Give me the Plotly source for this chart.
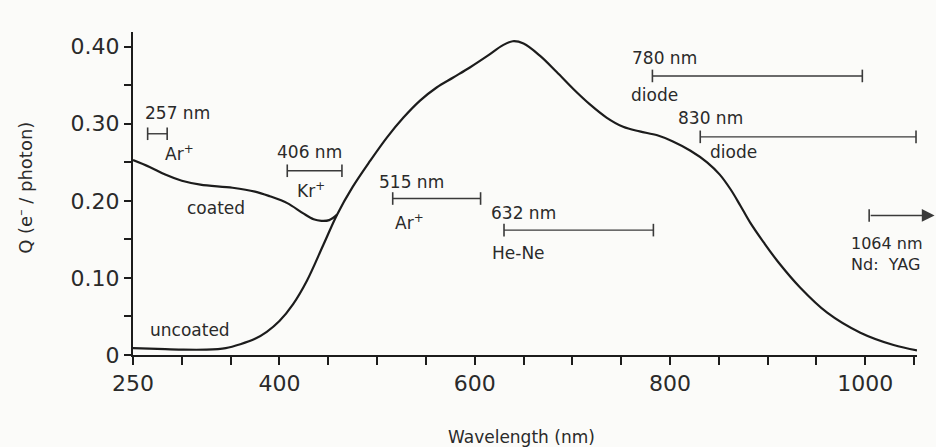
import plotly.graph_objects as go

# ---------------- data ----------------
uncoated_wl = [250, 275, 300, 325, 345, 360, 375, 387, 400, 414, 428, 445, 459, 475, 493,
               510, 527, 544, 561, 578, 595, 613, 629, 639, 650, 667, 684, 701, 718, 735,
               752, 769, 787, 803, 821, 838, 851, 862, 872, 882, 896, 910, 933, 961, 995,
               1029, 1053]
uncoated_q = [0.009, 0.008, 0.007, 0.007, 0.009, 0.014, 0.021, 0.030, 0.044, 0.066, 0.096,
              0.143, 0.182, 0.218, 0.252, 0.282, 0.308, 0.330, 0.347, 0.360, 0.373, 0.388,
              0.402, 0.407, 0.404, 0.388, 0.367, 0.345, 0.325, 0.308, 0.296, 0.290, 0.285,
              0.277, 0.265, 0.250, 0.234, 0.215, 0.194, 0.172, 0.146, 0.122, 0.088, 0.055,
              0.029, 0.013, 0.006]

coated_wl = [250, 267, 283, 300, 319, 352, 375, 390, 408, 424, 435, 443, 451, 459]
coated_q = [0.253, 0.244, 0.234, 0.226, 0.221, 0.217, 0.212, 0.206, 0.197, 0.184, 0.176,
            0.174, 0.175, 0.182]

laser_lines = ["257 nm", "406 nm", "515 nm", "632 nm", "780 nm", "830 nm", "1064 nm"]
laser_media = ["Ar<sup>+</sup>", "Kr<sup>+</sup>", "Ar<sup>+</sup>", "He-Ne", "diode", "diode",
               "Nd:  YAG"]
bar_start = [265, 408, 516, 630, 782, 831, 1004]
bar_end = [285, 464, 606, 783, 997, 1052, 1071]
bar_level = [0.287, 0.239, 0.203, 0.162, 0.362, 0.283, 0.181]
bar_is_arrow = [False, False, False, False, False, False, True]

x_major_vals = [250, 400, 600, 800, 1000]
x_major_text = ["250", "400", "600", "800", "1000"]
x_minor_vals = [300, 350, 450, 500, 550, 650, 700, 750, 850, 900, 950, 1050]
y_major_vals = [0, 0.10, 0.20, 0.30, 0.40]
y_major_text = ["0", "0.10", "0.20", "0.30", "0.40"]
y_minor_vals = [0.05, 0.15, 0.25, 0.35]

curve_labels = ["coated", "uncoated"]
curve_label_wl = [303, 265]
curve_label_q = [0.191, 0.032]

# ---------------- styling / layout ----------------
FONT = "DejaVu Sans"
INK = "#1c1c1c"
TXT = "#2a2a2a"
BAR = "#3a3a3a"

# pixel offsets of the (top label, bottom label) relative to the bar start
top_shift = [(-5, 21), (-12, 19), (-16, 17), (-15, 17), (-22, 18), (-24, 19), None]
bot_shift = [(15, -19), (8, -19), (0, -23), (-14, -23), (-23, -19), (8, -15), None]
stack_shift = (-20, -39)   # two-line caption placed below the arrow

fig = go.Figure()

fig.add_trace(go.Scatter(x=uncoated_wl, y=uncoated_q, mode="lines",
                         line=dict(color=INK, width=2.2, shape="spline", smoothing=1.0),
                         hoverinfo="skip", showlegend=False))
fig.add_trace(go.Scatter(x=coated_wl, y=coated_q, mode="lines",
                         line=dict(color=INK, width=2.2, shape="spline", smoothing=1.0),
                         hoverinfo="skip", showlegend=False))

annotations = []
for i in range(len(laser_lines)):
    if bar_is_arrow[i]:
        fig.add_trace(go.Scatter(x=[bar_start[i]], y=[bar_level[i]], mode="markers",
                                 marker=dict(symbol="line-ns", size=9,
                                             line=dict(width=1.6, color=BAR)),
                                 cliponaxis=False, hoverinfo="skip", showlegend=False))
        annotations.append(dict(x=bar_end[i], y=bar_level[i], xref="x", yref="y",
                                ax=bar_start[i], ay=bar_level[i], axref="x", ayref="y",
                                text="", showarrow=True, arrowhead=2, arrowsize=1.7,
                                arrowwidth=1.5, arrowcolor=BAR, standoff=0, startstandoff=0))
        annotations.append(dict(x=bar_start[i], y=bar_level[i], xref="x", yref="y",
                                text=laser_lines[i] + "<br>" + laser_media[i],
                                showarrow=False, xanchor="left", yanchor="middle",
                                align="left", xshift=stack_shift[0], yshift=stack_shift[1],
                                font=dict(family=FONT, size=16, color=TXT)))
        continue
    fig.add_trace(go.Scatter(x=[bar_start[i], bar_end[i]], y=[bar_level[i], bar_level[i]],
                             mode="lines+markers",
                             line=dict(color=BAR, width=1.4),
                             marker=dict(symbol="line-ns", size=9,
                                         line=dict(width=1.6, color=BAR)),
                             cliponaxis=False, hoverinfo="skip", showlegend=False))
    for txt, (dx, dy) in ((laser_lines[i], top_shift[i]), (laser_media[i], bot_shift[i])):
        annotations.append(dict(x=bar_start[i], y=bar_level[i], xref="x", yref="y",
                                text=txt, showarrow=False, xanchor="left", yanchor="middle",
                                xshift=dx, yshift=dy,
                                font=dict(family=FONT, size=17, color=TXT)))

for lab, xw, yq in zip(curve_labels, curve_label_wl, curve_label_q):
    annotations.append(dict(x=xw, y=yq, xref="x", yref="y", text=lab, showarrow=False,
                            xanchor="left", yanchor="middle",
                            font=dict(family=FONT, size=17, color=TXT)))

annotations.append(dict(x=0.495, y=-0.254, xref="paper", yref="paper",
                        text="Wavelength (nm)", showarrow=False, xanchor="center",
                        yanchor="middle", font=dict(family=FONT, size=17, color=TXT)))
annotations.append(dict(x=-0.138, y=0.517, xref="paper", yref="paper",
                        text="Q (e<sup>–</sup> / photon)", showarrow=False, textangle=-90,
                        xanchor="center", yanchor="middle",
                        font=dict(family=FONT, size=18, color=TXT)))

fig.update_layout(
    width=936, height=447,
    margin=dict(l=133, r=19, t=32, b=92),
    paper_bgcolor="#fbfbf9", plot_bgcolor="#fbfbf9",
    annotations=annotations,
    showlegend=False,
)
fig.update_xaxes(range=[250, 1053], tickmode="array", tickvals=x_major_vals,
                 ticktext=x_major_text, ticks="outside", ticklen=8, tickwidth=1.8,
                 tickcolor=INK, showline=True, linecolor=INK, linewidth=2,
                 showgrid=False, zeroline=False,
                 minor=dict(tickmode="array", tickvals=x_minor_vals, ticks="outside",
                            ticklen=8, tickwidth=1.8, tickcolor=INK, showgrid=False),
                 tickfont=dict(family=FONT, size=22, color=TXT))
fig.update_yaxes(range=[0, 0.419], tickmode="array", tickvals=y_major_vals,
                 ticktext=y_major_text, ticks="outside", ticklen=7, tickwidth=1.8,
                 tickcolor=INK, showline=True, linecolor=INK, linewidth=2,
                 showgrid=False, zeroline=False,
                 minor=dict(tickmode="array", tickvals=y_minor_vals, ticks="outside",
                            ticklen=7, tickwidth=1.8, tickcolor=INK, showgrid=False),
                 tickfont=dict(family=FONT, size=22, color=TXT))

fig.write_html("out.html")
